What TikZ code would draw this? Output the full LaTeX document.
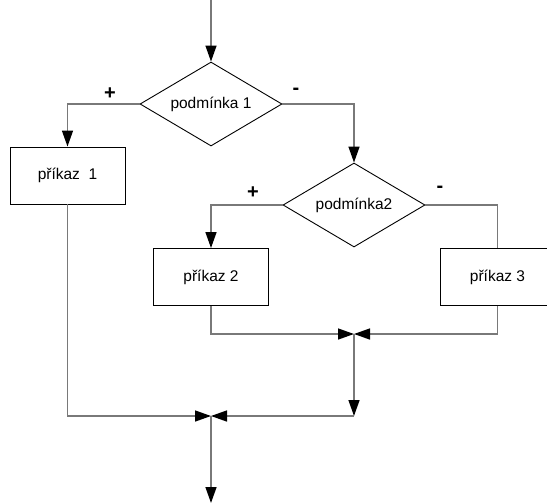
\documentclass[tikz,border=0pt]{standalone}
\usepackage{fontspec}
\setmainfont{Liberation Sans}
\usetikzlibrary{shapes.geometric,arrows.meta}

\tikzset{
  every node/.style={font=\fontsize{15.5}{18}\selectfont},
  stepbox/.style={draw=black, line width=0.9pt, rectangle, minimum width=115pt, minimum height=57pt, inner sep=0pt},
  cond/.style={draw=black, line width=0.9pt, diamond, aspect=1.7, minimum width=142pt, minimum height=84pt, inner sep=0pt},
  flow/.style={draw=gray!95!black, line width=1.4pt},
  conn/.style={flow, -{Triangle[length=16pt,width=11pt,color=black]}},
  sign/.style={font=\fontsize{20}{22}\selectfont\bfseries, inner sep=0pt}
}

\begin{document}
\begin{tikzpicture}[x=1pt,y=-1pt]
  \useasboundingbox (0,0) rectangle (547,504);
  \clip (0,0) rectangle (547,504);

  % decisions
  \node[cond] (d1) at (211,104) {podmínka 1};
  \node[cond] (d2) at (354,205) {podmínka2};

  % statements
  \node[stepbox] (b1) at (67.5,175.5) {příkaz\ \ 1};
  \node[stepbox] (b2) at (211,277) {příkaz 2};
  \node[stepbox] (b3) at (497.5,277) {příkaz 3};

  % branch signs
  \node[sign] (p1) at (110,94) {+};
  \node[sign] (m1) at (296,91) {-};
  \node[sign] (p2) at (253,193) {+};
  \node[sign] (m2) at (440,189) {-};

  % free ends and junctions
  \coordinate (top) at (211,0);
  \coordinate (j2) at (354,334);
  \coordinate (c) at (354,416);
  \coordinate (j1) at (211,416);
  \coordinate (bot) at (211,503);

  % flow lines
  \draw[conn] (top) -- (d1.north);
  \draw[conn] (d1.west) -| (b1.north);
  \draw[conn] (d1.east) -| (d2.north);
  \draw[conn] (d2.west) -| (b2.north);
  \draw[flow] (d2.east) -| (b3.north);
  \draw[conn] (b2.south) |- (j2);
  \draw[conn] (b3.south) |- (j2);
  \draw[conn] (j2) -- (c);
  \draw[conn] (c) -- (j1);
  \draw[conn] (b1.south) |- (j1);
  \draw[conn] (j1) -- (bot);
\end{tikzpicture}
\end{document}
